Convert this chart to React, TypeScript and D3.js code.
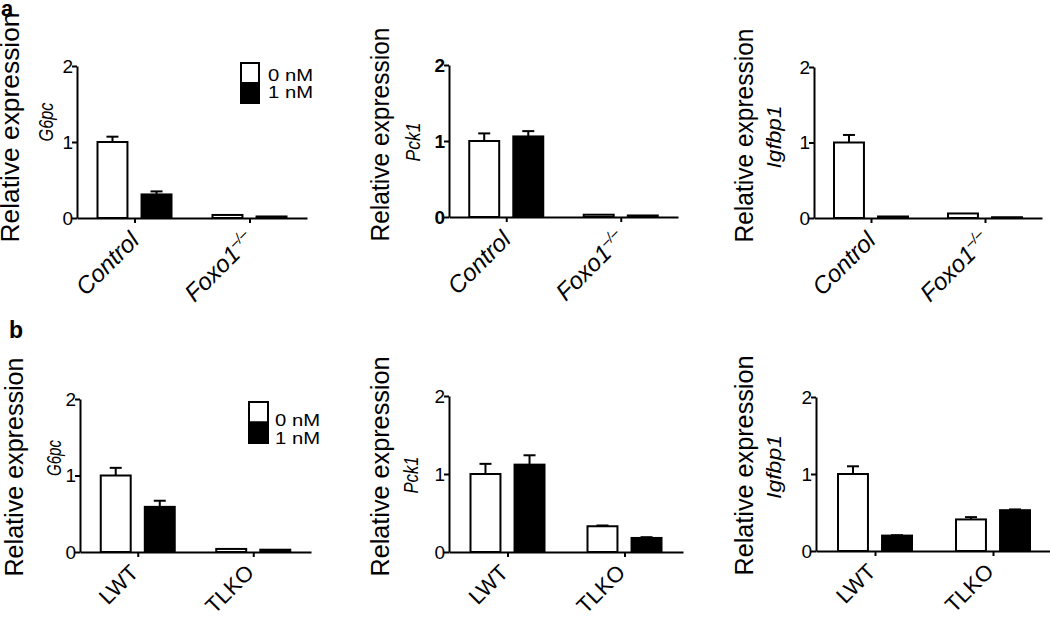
import React, { useEffect, useRef } from 'react';
import * as d3 from 'd3';

const width = 1050;
const height = 619;
const FONT = '"Liberation Sans", Arial, Helvetica, sans-serif';

// values (relative expression, mean and upper error)
const doses = ['0 nM', '1 nM'];
const yTicks = [0, 1, 2];

const groupsA = ['Control', 'Foxo1–/–'];
const groupsB = ['LWT', 'TLKO'];

const aG6pc0 = [1.0, 0.04];
const aG6pc1 = [0.31, 0.02];
const aG6pcErr0 = [0.07, 0];
const aG6pcErr1 = [0.04, 0];

const aPck10 = [1.0, 0.03];
const aPck11 = [1.06, 0.02];
const aPck1Err0 = [0.1, 0];
const aPck1Err1 = [0.07, 0];

const aIgfbp10 = [1.0, 0.06];
const aIgfbp11 = [0.02, 0.01];
const aIgfbp1Err0 = [0.1, 0];
const aIgfbp1Err1 = [0, 0];

const bG6pc0 = [1.0, 0.04];
const bG6pc1 = [0.59, 0.03];
const bG6pcErr0 = [0.1, 0];
const bG6pcErr1 = [0.08, 0];

const bPck10 = [1.0, 0.33];
const bPck11 = [1.12, 0.18];
const bPck1Err0 = [0.13, 0.01];
const bPck1Err1 = [0.12, 0.01];

const bIgfbp10 = [1.0, 0.41];
const bIgfbp11 = [0.2, 0.53];
const bIgfbp1Err0 = [0.1, 0.03];
const bIgfbp1Err1 = [0.005, 0.01];

// layout of the six panels (axis origin etc.)
const panels = [
  { gene: 'G6pc', groups: groupsA, m: [aG6pc0, aG6pc1], e: [aG6pcErr0, aG6pcErr1], ax: 77, yTop: 66, y0: 218, w: 230,
    titleX: -58, titleLen: 230, geneX: -24, geneY: -96, geneLen: 39, bold: false, italicX: true,
    legend: { dx: 164, dy: -3, w: 18, h: 40, tx: 9, ty: [16, 33] } },
  { gene: 'Pck1', groups: groupsA, m: [aPck10, aPck11], e: [aPck1Err0, aPck1Err1], ax: 449, yTop: 65, y0: 217, w: 229,
    titleX: -60, titleLen: 214, geneX: -29, geneY: -75, geneLen: 39, bold: true, italicX: true },
  { gene: 'Igfbp1', groups: groupsA, m: [aIgfbp10, aIgfbp11], e: [aIgfbp1Err0, aIgfbp1Err1], ax: 814, yTop: 67, y0: 218, w: 228,
    titleX: -61, titleLen: 214, geneX: -33, geneY: -81, geneLen: 63, bold: false, italicX: true },
  { gene: 'G6pc', groups: groupsB, m: [bG6pc0, bG6pc1], e: [bG6pcErr0, bG6pcErr1], ax: 80, yTop: 399, y0: 552, w: 231,
    titleX: -57, titleLen: 219, geneX: -19, geneY: -94, geneLen: 36, bold: false, italicX: false,
    legend: { dx: 169, dy: 3, w: 19, h: 41, tx: 7, ty: [22, 40] } },
  { gene: 'Pck1', groups: groupsB, m: [bPck10, bPck11], e: [bPck1Err0, bPck1Err1], ax: 449, yTop: 396, y0: 552, w: 234,
    titleX: -60, titleLen: 220, geneX: -31, geneY: -77, geneLen: 37, bold: false, italicX: false },
  { gene: 'Igfbp1', groups: groupsB, m: [bIgfbp10, bIgfbp11], e: [bIgfbp1Err0, bIgfbp1Err1], ax: 816, yTop: 397, y0: 551, w: 236,
    titleX: -63, titleLen: 220, geneX: -35, geneY: -84, geneLen: 64, bold: false, italicX: false },
];

const fills = ['#fff', '#000'];

const Panel = ({ p }: { p: any }) => {
  const yRef = useRef<SVGGElement>(null);
  const xRef = useRef<SVGGElement>(null);

  const y = d3.scaleLinear().domain([0, 2]).range([p.y0, p.yTop]);
  const x = d3.scalePoint<string>().domain(p.groups).range([p.ax, p.ax + p.w]).padding(0.5);
  const sub = d3.scaleBand<string>().domain(doses).range([-37, 37]).paddingInner(0.32);

  useEffect(() => {
    const gy = d3.select(yRef.current);
    gy.call(
      d3.axisLeft(y).tickValues(yTicks).tickFormat(d3.format('d')).tickSize(5).tickSizeOuter(0).tickPadding(-1) as any
    );
    gy.attr('font-family', FONT).attr('font-size', 19).attr('font-weight', p.bold ? 'bold' : 'normal');
    gy.selectAll('path, line').attr('stroke', '#000').attr('stroke-width', 2);
    gy.selectAll('text').attr('fill', '#000');

    const gx = d3.select(xRef.current);
    gx.call(d3.axisBottom(x).tickSize(5).tickSizeOuter(0).tickFormat(() => '') as any);
    gx.selectAll('path, line').attr('stroke', '#000').attr('stroke-width', 2);
  }, []);

  const labelDx = p.italicX ? 6 : 2;
  const labelDy = p.italicX ? 24 : 22;

  return (
    <g>
      {/* bars */}
      {p.groups.map((g: string, gi: number) =>
        doses.map((d, di) => {
          const v = p.m[di][gi];
          const err = p.e[di][gi];
          const left = (x(g) as number) + (sub(d) as number);
          const cx = left + sub.bandwidth() / 2;
          return (
            <g key={g + d}>
              {err > 0 && (
                <g stroke="#000" strokeWidth={2}>
                  <line x1={cx} x2={cx} y1={y(v)} y2={y(v + err)} />
                  <line x1={cx - 6} x2={cx + 6} y1={y(v + err)} y2={y(v + err)} />
                </g>
              )}
              <rect x={left} y={y(v)} width={sub.bandwidth()} height={p.y0 - y(v)}
                fill={fills[di]} stroke="#000" strokeWidth={2} />
            </g>
          );
        })
      )}

      <g ref={yRef} transform={`translate(${p.ax},0)`} />
      <g ref={xRef} transform={`translate(0,${p.y0})`} />

      {/* category labels */}
      {p.groups.map((g: string) => {
        const parts = g.split('–/–');
        return (
          <text key={g} transform={`translate(${(x(g) as number) + labelDx},${p.y0 + labelDy}) rotate(-45)`}
            textAnchor="end" fontSize={p.italicX ? 24 : 22} fontStyle={p.italicX ? 'italic' : 'normal'}>
            {parts[0]}
            {parts.length > 1 && <tspan fontSize={14} dy={-10}>–/–</tspan>}
          </text>
        );
      })}

      {/* y title */}
      <text transform={`translate(${p.ax + p.titleX},${p.y0 + 24.5}) rotate(-90)`} fontSize={25}
        textLength={p.titleLen} lengthAdjust="spacingAndGlyphs">
        Relative expression
      </text>
      <text transform={`translate(${p.ax + p.geneX},${p.y0 + p.geneY}) rotate(-90)`} textAnchor="middle"
        fontStyle="italic" fontSize={21} textLength={p.geneLen} lengthAdjust="spacingAndGlyphs">
        {p.gene}
      </text>

      {p.legend && (
        <g transform={`translate(${p.ax + p.legend.dx},${p.yTop + p.legend.dy})`}>
          {doses.map((d, di) => (
            <g key={d}>
              <rect x={0} y={(di * p.legend.h) / 2} width={p.legend.w} height={p.legend.h / 2}
                fill={fills[di]} stroke="#000" strokeWidth={2} />
              <text x={p.legend.w + p.legend.tx} y={p.legend.ty[di] + 2} fontSize={16.5}
                textLength={45} lengthAdjust="spacingAndGlyphs">{d}</text>
            </g>
          ))}
        </g>
      )}
    </g>
  );
};

const App = () => (
  <svg width={width} height={height} style={{ position: 'absolute', left: 0, top: 0, background: '#fff' }}
    fontFamily={FONT}>
    <text x={1} y={16} fontSize={22} fontWeight="bold">a</text>
    <text x={9} y={338} fontSize={23} fontWeight="bold">b</text>
    {panels.map((p, i) => <Panel key={i} p={p} />)}
  </svg>
);

export default App;
